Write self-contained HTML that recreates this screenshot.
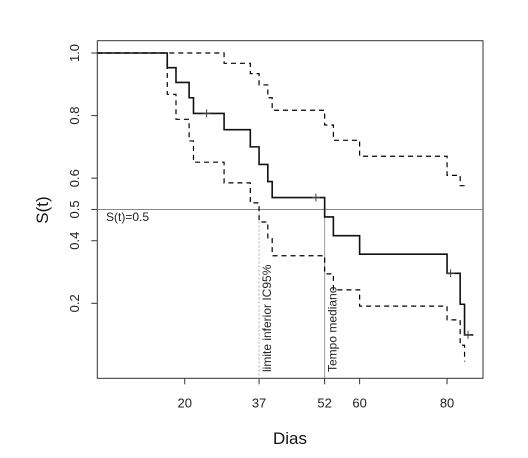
<!DOCTYPE html>
<html><head><meta charset="utf-8"><style>
body{margin:0;background:#fff}
svg text{font-family:"Liberation Sans",sans-serif}
</style></head><body>
<svg width="528" height="453" xmlns="http://www.w3.org/2000/svg">
<g id="plot"></g>
</svg>
<script>
const times=[0,16,18,21,22,29,35,37,39,40,52,54,60,80,83,84];
const surv=[1,0.953,0.906,0.857,0.807,0.755,0.700,0.644,0.589,0.538,0.476,0.416,0.357,0.296,0.197,0.099];
const upper=[1,1,1,1,1,0.967,0.934,0.898,0.857,0.817,0.770,0.721,0.670,0.609,0.576,0.576];
const lower=[1,0.868,0.788,0.719,0.651,0.585,0.521,0.460,0.407,0.352,0.294,0.243,0.191,0.147,0.066,0.014];
const censorT=[25,50,80.8,84.8];
const censorS=[0.807,0.538,0.296,0.099];
const xTicks=[20,37,52,60,80];
const yTicks=[0.2,0.4,0.5,0.6,0.8,1.0];
const endSurv=86, endUpper=84.5, endLower=84;
const L=97.3,R=483,T=40.7,B=378.3;
const x=t=>97.3+t*4.372;
const y=s=>53+(1-s)*312.9;
const NS="http://www.w3.org/2000/svg";
const g=document.getElementById('plot');
function mk(tag,attrs,parent){const e=document.createElementNS(NS,tag);for(const k in attrs)e.setAttribute(k,attrs[k]);(parent||g).appendChild(e);return e;}
function stepPath(ts,ss,end,cutAtLast){let d=`M${x(ts[0])},${y(ss[0])}`;for(let i=1;i<ts.length;i++){d+=` H${x(ts[i])} V${y(ss[i])}`;}d+=` H${x(end)}`;return d;}
// box
let e=mk('rect',{x:L,y:T,width:R-L,height:B-T,fill:'none',stroke:'#333','stroke-width':1});

// reference lines
e=mk('line',{x1:L,x2:R,y1:y(0.5),y2:y(0.5),stroke:'#888','stroke-width':1});

e=mk('line',{x1:x(37),x2:x(37),y1:y(0.5),y2:B,stroke:'#aaa','stroke-width':1,'stroke-dasharray':'2,2'});

e=mk('line',{x1:x(52),x2:x(52),y1:y(0.5),y2:B,stroke:'#999','stroke-width':1});

// curves
e=mk('path',{d:stepPath(times,upper,endUpper),fill:'none',stroke:'#000','stroke-width':1.2,'stroke-dasharray':'5,4'});

e=mk('path',{d:stepPath(times,lower,endLower),fill:'none',stroke:'#000','stroke-width':1.2,'stroke-dasharray':'5,4'});

e=mk('path',{d:stepPath(times,surv,endSurv),fill:'none',stroke:'#111','stroke-width':1.6});

censorT.forEach((t,i)=>{const c=mk('path',{d:`M${x(t)-4},${y(censorS[i])} h8 M${x(t)},${y(censorS[i])-4} v8`,stroke:'#444','stroke-width':1});
});
// x ticks
xTicks.forEach(t=>{const l=mk('line',{x1:x(t),x2:x(t),y1:B,y2:B+6,stroke:'#333'});

const tx=mk('text',{x:x(t),y:B+29,'text-anchor':'middle','font-size':13,fill:'#222'});tx.textContent=t;
});
yTicks.forEach(v=>{const l=mk('line',{x1:L-6,x2:L,y1:y(v),y2:y(v),stroke:'#333'});

const tx=mk('text',{x:0,y:0,'text-anchor':'middle','font-size':13,fill:'#222',transform:`translate(79,${y(v)}) rotate(-90)`});tx.textContent=v.toFixed(1);
});
// labels
e=mk('text',{x:106,y:221,'font-size':12,fill:'#222'});e.textContent='S(t)=0.5';

e=mk('text',{x:0,y:0,'font-size':12,fill:'#222',transform:`translate(${x(37)+12},372) rotate(-90)`});e.textContent='limite inferior IC95%';

e=mk('text',{x:0,y:0,'font-size':12,fill:'#222',transform:`translate(${x(52)+12},372) rotate(-90)`});e.textContent='Tempo mediano';

e=mk('text',{x:290,y:444,'text-anchor':'middle','font-size':17,fill:'#111'});e.textContent='Dias';

e=mk('text',{x:0,y:0,'text-anchor':'middle','font-size':17,fill:'#111',transform:'translate(48,210) rotate(-90)'});e.textContent='S(t)';

</script>
</body></html>
